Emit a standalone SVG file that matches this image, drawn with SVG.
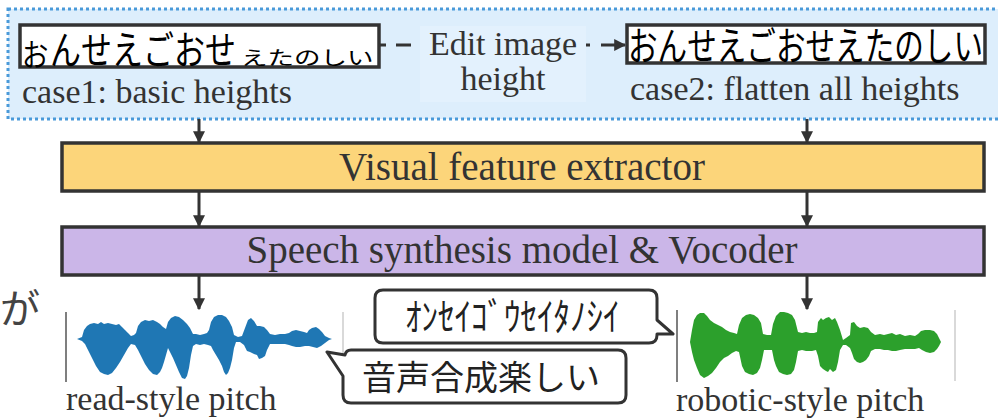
<svg xmlns="http://www.w3.org/2000/svg" width="998" height="420" viewBox="0 0 998 420">
<style>
.serif{font-family:"Liberation Serif","Times New Roman",serif;fill:#333;}
.jp{font-family:"Noto Sans CJK JP","Noto Sans",sans-serif;}
.box{stroke:#333;stroke-width:3.5;}
.conn{stroke:#333;stroke-width:3;fill:none;}
.call{fill:#fff;stroke:#333;stroke-width:3;stroke-linejoin:round;}
.axis{stroke-width:1.5;}
</style>
<defs>
<marker id="arr" viewBox="0 0 10 10" refX="9" refY="5" markerWidth="4" markerHeight="4" orient="auto" markerUnits="strokeWidth">
<path d="M0,0 L10,5 L0,10 Z" fill="#333"/>
</marker>
</defs>
<rect width="998" height="420" fill="#fff"/>

<g id="input-region">
<rect x="8" y="9" width="1010" height="110" fill="#ddeefc" stroke="#4a9ad9" stroke-width="3" stroke-dasharray="3 3"/>
<rect x="420" y="26" width="166" height="76" fill="#e3f1fd"/>
</g>

<g id="case1">
<rect x="20" y="25" width="359" height="42" fill="#fff" class="box"/>
<text class="jp" font-size="31" fill="#000" transform="translate(22,66) scale(0.85,1)">お</text>
<text class="jp" font-size="31" fill="#000" transform="translate(50,64) scale(1,1.24)">んせえごおせ</text>
<text class="jp" font-size="26.5" fill="#000" transform="translate(241,65) scale(1,0.75)">えたのしい</text>
<text class="serif" x="22" y="103" font-size="34">case1: basic heights</text>
</g>

<g id="edit-label">
<text class="serif" x="503" y="55" font-size="34" text-anchor="middle">Edit image</text>
<text class="serif" x="503" y="90" font-size="34" text-anchor="middle">height</text>
</g>

<g id="case2">
<rect x="627" y="25" width="358" height="38" fill="#fff" class="box"/>
<text class="jp" font-size="29.6" fill="#000" transform="translate(628,60) scale(1,1.3)">おんせえごおせえたのしい</text>
<text class="serif" x="630" y="100" font-size="34">case2: flatten all heights</text>
</g>

<g id="visual-feature-extractor">
<rect x="62" y="143" width="922" height="48" fill="#fcd57a" class="box"/>
<text class="serif" x="522" y="180" font-size="39" text-anchor="middle">Visual feature extractor</text>
</g>

<g id="speech-synthesis">
<rect x="62" y="227" width="922" height="48" fill="#cbb6e8" class="box"/>
<text class="serif" x="522" y="263" font-size="39" text-anchor="middle">Speech synthesis model &amp; Vocoder</text>
</g>

<g id="partial-text">
<text class="jp" x="0" y="323" font-size="40" fill="#444">が</text>
</g>

<g id="wave-read">
<line x1="66" y1="312" x2="66" y2="382" stroke="#555" class="axis"/>
<line x1="343" y1="312" x2="343" y2="381" stroke="#ccc" class="axis"/>
<path fill="#1f77b4" d="M77,339 L82,337 84,330 87,326 90,324 94,323 98,324 101,322 104,324 108,323 112,324 116,325 119,324 122,327 125,330 128,333 131,336 134,335 136,333 138,326 141,322 145,320 149,321 153,320 157,322 160,324 163,327 166,329 168,322 171,318 175,316 179,317 183,320 187,324 190,328 193,334 196,334 200,335 204,334 207,333 209,330 211,322 214,317 218,315 222,315 226,317 229,321 232,327 234,335 238,337 242,336 245,328 248,320 251,318 254,321 257,326 260,326 264,327 267,330 270,334 275,335 280,334 285,334 289,333 292,331 296,330 300,331 304,332 307,333 309,330 312,328 316,327 319,329 322,332 325,336 329,338 332,339 329,340 325,343 321,346 317,348 313,347 309,346 305,346 300,347 296,347 292,346 289,345 285,344 280,344 275,344 270,344 267,350 265,356 262,358 259,359 257,355 254,354 250,352 247,351 244,345 240,342 236,342 234,348 232,360 230,368 228,373 226,375 224,372 222,366 219,360 216,355 213,350 211,346 208,345 204,344 200,345 196,344 193,346 191,355 189,368 187,376 185,379 182,378 179,372 176,365 173,358 170,352 168,348 166,355 164,362 162,368 160,372 157,375 153,374 149,370 145,364 141,356 138,350 135,345 131,344 128,348 124,355 120,362 116,368 112,373 108,375 104,374 100,372 96,366 92,358 88,350 85,344 82,341 Z"/>
<text class="serif" x="66" y="410" font-size="34">read-style pitch</text>
</g>

<g id="wave-robotic">
<line x1="677" y1="310" x2="677" y2="382" stroke="#555" class="axis"/>
<line x1="955" y1="310" x2="955" y2="381" stroke="#ccc" class="axis"/>
<path fill="#2ca02c" d="M690,342 L692,330 694,320 697,315 700,313 704,313 707,316 710,320 714,323 718,325 722,327 726,330 730,332 734,333 737,334 739,325 742,318 746,315 750,314 754,315 758,318 761,323 763,334 767,335 771,335 773,324 776,316 780,312 784,312 788,313 792,315 795,320 798,332 802,333 806,332 810,333 814,333 817,332 818,322 821,318 823,320 826,318 829,317 832,320 835,318 837,322 840,330 843,340 846,338 850,335 851,323 854,322 857,326 860,328 864,327 868,328 871,332 875,335 880,334 884,335 888,334 892,333 896,335 900,334 905,336 910,335 915,336 918,334 921,331 925,330 930,330 934,331 937,334 939,338 941,342 939,346 937,349 934,352 930,353 926,352 922,350 919,348 915,349 910,349 905,349 900,350 896,351 892,351 888,350 884,350 880,349 875,349 871,351 869,356 866,360 863,362 860,363 857,362 854,359 852,353 850,348 846,345 843,345 840,350 838,362 836,370 833,372 830,369 828,372 826,371 823,369 820,366 818,356 816,350 812,351 806,351 802,350 798,351 796,362 794,370 791,374 787,375 783,374 779,372 776,366 774,360 772,350 768,350 764,350 762,360 760,368 757,373 753,375 749,374 745,372 742,366 739,352 736,351 732,353 728,356 724,358 720,362 716,368 712,373 708,376 704,378 700,375 697,368 694,360 692,352 Z"/>
<text class="serif" x="676" y="411" font-size="34">robotic-style pitch</text>
</g>

<g id="callout-katakana">
<path class="call" d="M383,290 H649 Q657,290 657,298 V320 L673,334 L657,334 V335 Q657,343 649,343 H383 Q375,343 375,335 V298 Q375,290 383,290 Z"/>
<text class="jp" font-size="33" fill="#222" transform="translate(405,330) scale(1,1.15)">ｵﾝｾｲｺﾞｳｾｲﾀﾉｼｲ</text>
</g>

<g id="callout-kanji">
<path class="call" d="M351,350 H618 Q626,350 626,358 V395 Q626,403 618,403 H351 Q343,403 343,395 V376 L327,352 L345,355 Q346,350 351,350 Z"/>
<text class="jp" x="362" y="390" font-size="34" fill="#222">音声合成楽しい</text>
</g>

<g id="connectors">
<path class="conn" d="M379,45 H386 M396,45 H411 M586,45 H590"/>
<line class="conn" x1="601" y1="45" x2="625" y2="45" marker-end="url(#arr)"/>
<line class="conn" x1="199" y1="119" x2="199" y2="142" marker-end="url(#arr)"/>
<line class="conn" x1="807" y1="119" x2="807" y2="142" marker-end="url(#arr)"/>
<line class="conn" x1="199" y1="192" x2="199" y2="226" marker-end="url(#arr)"/>
<line class="conn" x1="807" y1="192" x2="807" y2="226" marker-end="url(#arr)"/>
<line class="conn" x1="199" y1="276" x2="199" y2="309" marker-end="url(#arr)"/>
<line class="conn" x1="807" y1="276" x2="807" y2="309" marker-end="url(#arr)"/>
</g>
</svg>
